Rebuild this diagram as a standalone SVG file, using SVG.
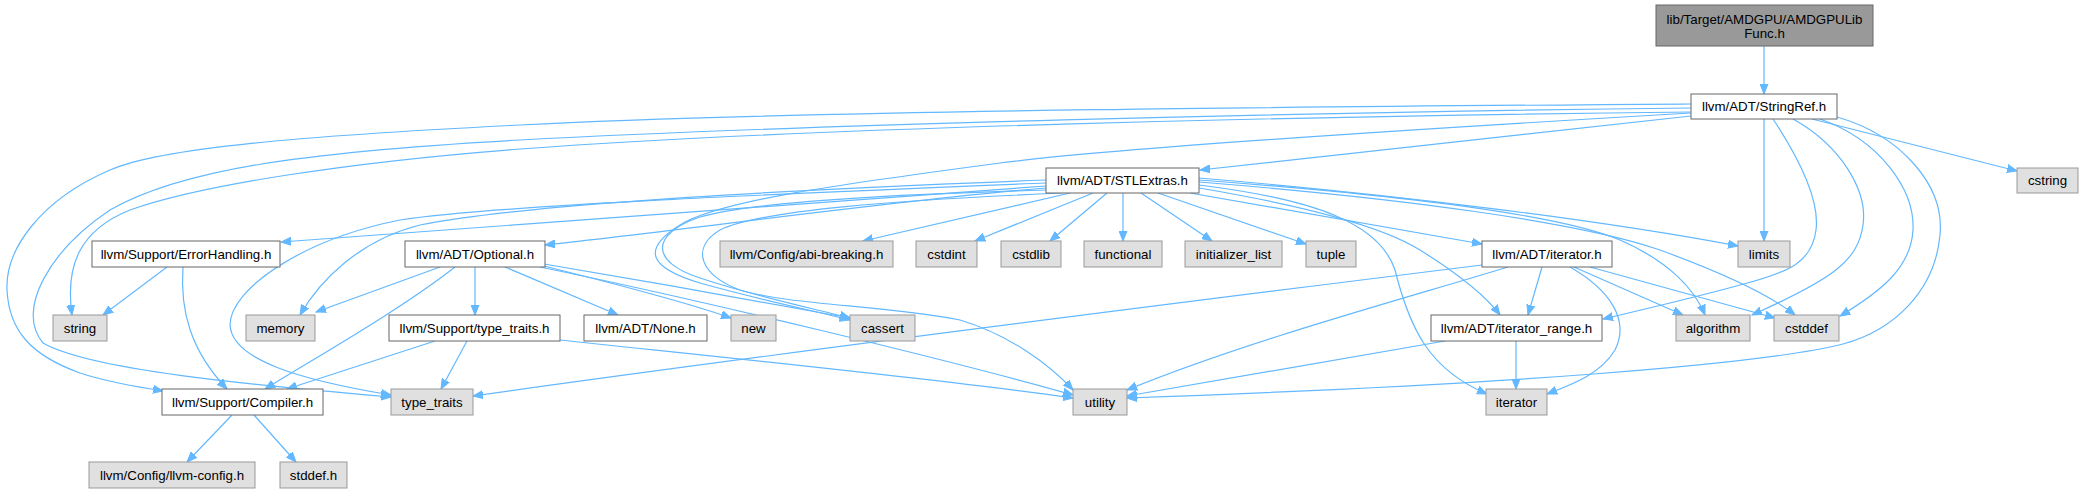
<svg xmlns="http://www.w3.org/2000/svg" width="2084" height="493" viewBox="0 0 2084 493">
<style>
.n rect{stroke-width:1}
.w rect{fill:#ffffff;stroke:#666666}
.g rect{fill:#e0e0e0;stroke:#999999}
.r rect{fill:#999999;stroke:#666666}
text{font-family:"Liberation Sans",Arial,Helvetica,sans-serif;font-size:13.3px;fill:#000;text-anchor:middle}
#edges path{fill:none;stroke:#63b8ff;stroke-width:1.2;marker-end:url(#ah)}
</style>
<defs>
<marker id="ah" markerUnits="userSpaceOnUse" markerWidth="11" markerHeight="9" refX="10" refY="4.5" orient="auto">
<path d="M0,0.5 L10,4.5 L0,8.5 z" fill="#63b8ff" stroke="#63b8ff" stroke-width="1"/>
</marker>
</defs>
<rect width="2084" height="493" fill="#ffffff"/>
<g id="edges">
<path d="M1764,46 L1764,94"/>
<path d="M1764,119 L1764,241"/>
<path d="M1812,119 L2017,171"/>
<path d="M1793,119 C1840,145 1868,190 1863,225 C1858,262 1830,280 1752,315"/>
<path d="M1773,119 C1800,160 1820,200 1816,230 C1812,262 1790,272 1740,285 C1700,296 1650,308 1603,319"/>
<path d="M1820,119 C1880,140 1915,190 1913,230 C1911,268 1880,292 1840,316"/>
<path d="M1837,117 C1900,135 1945,185 1940,235 C1935,290 1895,330 1843,344 C1760,365 1500,385 1127,398"/>
<path d="M1691,116 L1200,170"/>
<path d="M1691,104 C1400,106 800,110 520,125 C300,136 160,148 110,170 C40,200 5,250 7,290 C9,330 30,355 80,373 C110,383 140,387 163,391"/>
<path d="M1691,108 C1300,112 800,125 520,140 C300,152 180,170 110,210 C50,250 15,310 43,343 C90,370 250,385 391,397"/>
<path d="M1691,112 C1300,116 800,128 520,149 C350,162 200,185 130,210 C80,230 65,265 72,315"/>
<path d="M1691,113 C1400,130 1100,150 1000,163 C850,183 720,200 680,225 C640,250 650,268 700,283 C760,300 820,312 850,320"/>
<path d="M1046,186 C900,195 600,220 281,242"/>
<path d="M1046,188 C900,200 700,228 545,245"/>
<path d="M1046,180 C780,190 520,205 420,225 C360,240 320,280 300,315"/>
<path d="M1046,183 C800,193 500,205 400,220 C300,240 230,290 230,325 C232,360 300,380 391,395"/>
<path d="M1046,190 C900,194 750,202 700,217 C650,234 650,262 700,278 C760,298 820,310 850,318"/>
<path d="M1062,193 C900,200 760,210 720,230 C690,248 700,275 740,290 C790,305 880,305 960,320 C1010,335 1050,365 1073,390"/>
<path d="M1070,193 L863,241"/>
<path d="M1093,193 L975,241"/>
<path d="M1107,193 L1050,241"/>
<path d="M1123,193 L1123,241"/>
<path d="M1141,193 L1212,241"/>
<path d="M1158,193 L1306,244"/>
<path d="M1190,193 L1482,244"/>
<path d="M1199,188 C1300,205 1380,225 1420,250 C1460,275 1485,295 1500,315"/>
<path d="M1199,185 C1320,200 1380,225 1395,270 C1410,330 1430,370 1487,394"/>
<path d="M1199,178 C1400,195 1600,220 1738,246"/>
<path d="M1199,180 C1400,195 1560,215 1620,240 C1670,262 1695,290 1705,315"/>
<path d="M1199,182 C1400,198 1580,222 1660,250 C1720,272 1770,295 1795,315"/>
<path d="M440,267 L316,312"/>
<path d="M455,267 C400,310 320,355 265,389"/>
<path d="M475,267 L475,315"/>
<path d="M505,267 L618,315"/>
<path d="M544,266 C600,280 680,300 731,318"/>
<path d="M544,264 C640,280 780,305 850,318"/>
<path d="M540,267 C700,300 950,360 1073,395"/>
<path d="M435,341 L287,389"/>
<path d="M467,341 L441,389"/>
<path d="M560,340 C700,355 950,380 1073,398"/>
<path d="M1482,265 C1200,300 800,350 473,396"/>
<path d="M1508,267 C1400,300 1250,340 1127,390"/>
<path d="M1542,267 L1528,315"/>
<path d="M1574,267 L1683,315"/>
<path d="M1590,267 L1775,318"/>
<path d="M1570,267 C1610,290 1630,320 1615,350 C1600,375 1570,385 1547,394"/>
<path d="M1516,341 L1516,389"/>
<path d="M1445,341 L1127,396"/>
<path d="M167,267 L103,315"/>
<path d="M183,267 C180,310 190,350 227,389"/>
<path d="M232,415 L187,462"/>
<path d="M254,415 L296,462"/>
</g>
<g id="n_root" class="n r"><rect x="1656" y="5" width="217" height="41"/><text x="1764.5" y="24">lib/Target/AMDGPU/AMDGPULib</text><text x="1764.5" y="38">Func.h</text></g>
<g id="n_stringref" class="n w"><rect x="1691" y="94" width="146" height="25"/><text x="1764" y="111">llvm/ADT/StringRef.h</text></g>
<g id="n_stlextras" class="n w"><rect x="1046" y="168" width="153" height="25"/><text x="1122.5" y="185">llvm/ADT/STLExtras.h</text></g>
<g id="n_cstring" class="n g"><rect x="2017" y="168" width="61" height="25"/><text x="2047.5" y="185">cstring</text></g>
<g id="n_errorhandling" class="n w"><rect x="92" y="241" width="188" height="26"/><text x="186" y="258.5">llvm/Support/ErrorHandling.h</text></g>
<g id="n_optional" class="n w"><rect x="405" y="241" width="140" height="26"/><text x="475" y="258.5">llvm/ADT/Optional.h</text></g>
<g id="n_abibreaking" class="n g"><rect x="720" y="241" width="173" height="26"/><text x="806.5" y="258.5">llvm/Config/abi-breaking.h</text></g>
<g id="n_cstdint" class="n g"><rect x="916" y="241" width="61" height="26"/><text x="946.5" y="258.5">cstdint</text></g>
<g id="n_cstdlib" class="n g"><rect x="1001" y="241" width="60" height="26"/><text x="1031" y="258.5">cstdlib</text></g>
<g id="n_functional" class="n g"><rect x="1084" y="241" width="78" height="26"/><text x="1123" y="258.5">functional</text></g>
<g id="n_initializer_list" class="n g"><rect x="1185" y="241" width="97" height="26"/><text x="1233.5" y="258.5">initializer_list</text></g>
<g id="n_tuple" class="n g"><rect x="1306" y="241" width="50" height="26"/><text x="1331" y="258.5">tuple</text></g>
<g id="n_iteratorh" class="n w"><rect x="1482" y="241" width="130" height="26"/><text x="1547" y="258.5">llvm/ADT/iterator.h</text></g>
<g id="n_limits" class="n g"><rect x="1738" y="241" width="52" height="26"/><text x="1764" y="258.5">limits</text></g>
<g id="n_string" class="n g"><rect x="53" y="315" width="54" height="26"/><text x="80" y="332.5">string</text></g>
<g id="n_memory" class="n g"><rect x="246" y="315" width="69" height="26"/><text x="280.5" y="332.5">memory</text></g>
<g id="n_typetraitsh" class="n w"><rect x="389" y="315" width="171" height="26"/><text x="474.5" y="332.5">llvm/Support/type_traits.h</text></g>
<g id="n_none" class="n w"><rect x="584" y="315" width="123" height="26"/><text x="645.5" y="332.5">llvm/ADT/None.h</text></g>
<g id="n_new" class="n g"><rect x="731" y="315" width="45" height="26"/><text x="753.5" y="332.5">new</text></g>
<g id="n_cassert" class="n g"><rect x="850" y="315" width="65" height="26"/><text x="882.5" y="332.5">cassert</text></g>
<g id="n_iterator_range" class="n w"><rect x="1431" y="315" width="171" height="26"/><text x="1516.5" y="332.5">llvm/ADT/iterator_range.h</text></g>
<g id="n_algorithm" class="n g"><rect x="1676" y="315" width="74" height="26"/><text x="1713" y="332.5">algorithm</text></g>
<g id="n_cstddef" class="n g"><rect x="1774" y="315" width="65" height="26"/><text x="1806.5" y="332.5">cstddef</text></g>
<g id="n_compiler" class="n w"><rect x="162" y="389" width="161" height="26"/><text x="242.5" y="406.5">llvm/Support/Compiler.h</text></g>
<g id="n_type_traits" class="n g"><rect x="391" y="389" width="82" height="26"/><text x="432" y="406.5">type_traits</text></g>
<g id="n_utility" class="n g"><rect x="1073" y="389" width="54" height="26"/><text x="1100" y="406.5">utility</text></g>
<g id="n_iterator" class="n g"><rect x="1486" y="389" width="61" height="26"/><text x="1516.5" y="406.5">iterator</text></g>
<g id="n_llvmconfig" class="n g"><rect x="89" y="462" width="166" height="26"/><text x="172" y="479.5">llvm/Config/llvm-config.h</text></g>
<g id="n_stddef" class="n g"><rect x="280" y="462" width="67" height="26"/><text x="313.5" y="479.5">stddef.h</text></g>
</svg>
